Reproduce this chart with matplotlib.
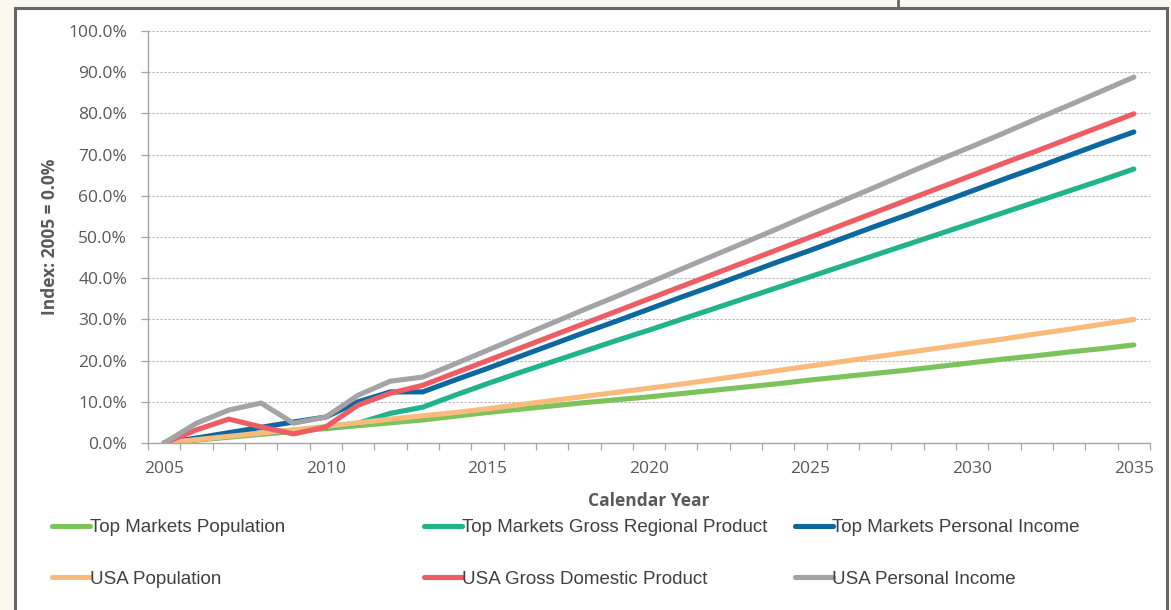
import matplotlib
matplotlib.use("Agg")
import matplotlib.pyplot as plt
from matplotlib.patches import Rectangle
from matplotlib.lines import Line2D
from matplotlib.ticker import FuncFormatter, MultipleLocator

years = list(range(2005, 2036))

# cumulative growth since 2005, in percent
top_markets_population = [0.0, 0.7, 1.4, 2.1, 2.8, 3.5, 4.2, 4.9, 5.6, 6.5, 7.4,
                          8.2, 9.0, 9.8, 10.5, 11.2, 12.0, 12.8, 13.6, 14.4, 15.3,
                          16.1, 16.9, 17.7, 18.6, 19.5, 20.4, 21.2, 22.1, 22.9, 23.8]
top_markets_grp = [0.0, 0.8, 1.6, 2.4, 3.1, 3.8, 4.8, 7.2, 8.7, 11.6, 14.4,
                   17.1, 19.7, 22.3, 24.9, 27.4, 30.0, 32.6, 35.2, 37.8, 40.4,
                   43.0, 45.6, 48.2, 50.8, 53.4, 56.0, 58.6, 61.2, 63.8, 66.5]
top_markets_income = [0.0, 1.2, 2.5, 3.8, 5.1, 6.3, 10.0, 12.4, 12.4, 15.3, 18.1,
                      21.0, 23.9, 26.8, 29.6, 32.5, 35.4, 38.2, 41.1, 44.0, 46.8,
                      49.7, 52.6, 55.4, 58.3, 61.2, 64.1, 66.9, 69.8, 72.7, 75.5]
usa_population = [0.0, 0.8, 1.6, 2.4, 3.2, 4.0, 4.9, 5.8, 6.6, 7.4, 8.3,
                  9.3, 10.3, 11.3, 12.3, 13.3, 14.3, 15.4, 16.5, 17.6, 18.7,
                  19.8, 20.9, 22.0, 23.1, 24.2, 25.3, 26.5, 27.6, 28.8, 30.0]
usa_gdp = [0.0, 3.2, 5.8, 3.9, 2.2, 3.9, 9.2, 12.1, 14.0, 17.0, 20.0,
           23.0, 26.0, 29.0, 32.0, 35.0, 38.0, 41.0, 44.0, 47.0, 50.0,
           53.0, 56.0, 59.0, 62.0, 65.0, 68.0, 70.9, 73.9, 76.9, 79.9]
usa_income = [0.0, 4.8, 8.0, 9.7, 4.8, 6.3, 11.6, 15.0, 16.0, 19.2, 22.5,
              25.8, 29.1, 32.4, 35.6, 38.9, 42.2, 45.5, 48.8, 52.1, 55.5,
              58.8, 62.1, 65.5, 68.8, 72.0, 75.3, 78.7, 82.0, 85.4, 88.8]

series = [
    ("Top Markets Population", top_markets_population, "#7cc35b"),
    ("Top Markets Gross Regional Product", top_markets_grp, "#21b38b"),
    ("Top Markets Personal Income", top_markets_income, "#0e68a0"),
    ("USA Population", usa_population, "#f8bb7c"),
    ("USA Gross Domestic Product", usa_gdp, "#ee5d63"),
    ("USA Personal Income", usa_income, "#a4a4a6"),
]

W, H = 1171, 610
fig = plt.figure(figsize=(W / 100, H / 100), dpi=100, facecolor="#f9f9ef")

# slide frame behind the chart
fig.add_artist(Rectangle((15 / W, -0.05), 1152 / W, (H - 8) / H + 0.05,
                         transform=fig.transFigure, facecolor="white",
                         edgecolor="#676767", linewidth=2.2, zorder=-5))
fig.add_artist(Line2D([898 / W, 898 / W], [1.0, (H - 8) / H],
                      transform=fig.transFigure, color="#676767", linewidth=2,
                      zorder=-5))

ax = fig.add_axes([148 / W, (H - 443) / H, 1002 / W, 412 / H])
ax.set_facecolor("none")

lines = []
for label, vals, color in series:
    (ln,) = ax.plot(years, vals, color=color, lw=3.7, label=label,
                    solid_capstyle="round", solid_joinstyle="round")
    lines.append(ln)

ax.set_xlim(2004.5, 2035.5)
ax.set_ylim(0, 100)
ax.xaxis.set_major_locator(MultipleLocator(5))
ax.xaxis.set_minor_locator(MultipleLocator(1, offset=0.5))
ax.yaxis.set_major_locator(MultipleLocator(10))
ax.yaxis.set_major_formatter(FuncFormatter(lambda v, p: f"{v:.1f}%"))

ax.tick_params(axis="x", which="major", length=0, pad=13, labelsize=12.5,
               labelcolor="#595959", labelfontfamily="Open Sans")
ax.tick_params(axis="x", which="minor", length=5, width=0.9, color="#a6a6a6",
               direction="out")
ax.tick_params(axis="y", length=5, width=0.9, color="#a6a6a6", pad=10,
               labelsize=12.5, labelcolor="#595959", labelfontfamily="Open Sans")

ax.grid(axis="y", color="#b5b5b5", linestyle=(0, (2, 1.6)), linewidth=0.8)
ax.set_axisbelow(True)
for side in ("top", "right"):
    ax.spines[side].set_visible(False)
for side in ("left", "bottom"):
    ax.spines[side].set_color("#a6a6a6")
    ax.spines[side].set_linewidth(1.0)

ax.set_xlabel("Calendar Year", fontsize=12.5, fontweight="bold",
              color="#595959", family="Open Sans", labelpad=11)
ax.set_ylabel("Index: 2005 = 0.0%", fontsize=12.5, fontweight="bold",
              color="#595959", family="Open Sans", labelpad=7)

# legend: three columns, two rows each
col_x = [52, 424, 795]
for i, x0 in enumerate(col_x):
    handles = [lines[i], lines[i + 3]]
    leg = fig.legend(handles=handles, loc="upper left",
                     bbox_to_anchor=(x0 / W, (H - 519) / H),
                     bbox_transform=fig.transFigure, frameon=False,
                     handlelength=2.0, handletextpad=0.0, labelspacing=1.85,
                     borderaxespad=0, borderpad=0,
                     prop=dict(family="Liberation Sans", size=13.5))
    for t in leg.get_texts():
        t.set_color("#404040")

fig.savefig("out.png", dpi=100, facecolor=fig.get_facecolor())
